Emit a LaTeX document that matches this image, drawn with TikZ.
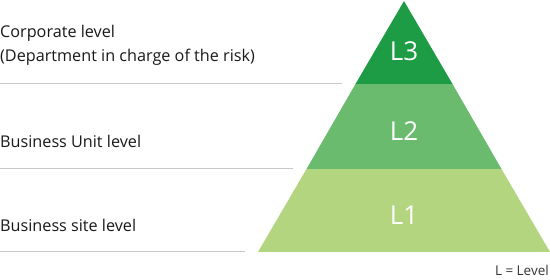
\documentclass[tikz,border=0pt]{standalone}
\usepackage{fontspec}
\setmainfont{Open Sans}
\definecolor{gA}{HTML}{1E9B45}
\definecolor{gB}{HTML}{6BBB6F}
\definecolor{gC}{HTML}{B3D57F}
\definecolor{rule}{HTML}{C8C8C8}
\begin{document}
\begin{tikzpicture}[x=1pt,y=-1pt,
  lab/.style={anchor=west,inner sep=0pt,font=\fontsize{16.2}{19}\selectfont,text=black!90},
  lev/.style={text=white,inner sep=0pt,font=\fontsize{26}{30}\selectfont},
  sep/.style={draw=rule,line width=1pt}]
\useasboundingbox (0,0) rectangle (550,280);
\coordinate (apex) at (404,1);
\coordinate (a1l) at (355.5,84);
\coordinate (a1r) at (452.5,84);
\coordinate (a2l) at (306.5,169);
\coordinate (a2r) at (501.5,169);
\coordinate (bl) at (258,252);
\coordinate (br) at (550,252);
\fill[gC] (a2l) -- (a2r) -- (br) -- (bl) -- cycle;
\fill[gB] (a1l) -- (a1r) -- (a2r) -- (a2l) -- cycle;
\fill[gA] (apex) -- (a1r) -- (a1l) -- cycle;
\node[lev] (l3) at (404,51) {L3};
\node[lev] (l2) at (404,131) {L2};
\node[lev] (l1) at (404,215) {L1};
\coordinate (s1a) at (0,84); \coordinate (s1b) at (342,84);
\coordinate (s2a) at (0,169); \coordinate (s2b) at (293,169);
\coordinate (s3a) at (0,252); \coordinate (s3b) at (245,252);
\draw[sep] (s1a) -- (s1b);
\draw[sep] (s2a) -- (s2b);
\draw[sep] (s3a) -- (s3b);
\node[lab] (t1) at (0,33) {Corporate level};
\node[lab] (t2) at (0,57) {(Department in charge of the risk)};
\node[lab] (t3) at (0,141) {Business Unit level};
\node[lab] (t4) at (0,225) {Business site level};
\node[anchor=east,inner sep=0pt,font=\fontsize{13.5}{16}\selectfont,text=black!80] (key) at (549,270) {L = Level};
\end{tikzpicture}
\end{document}
